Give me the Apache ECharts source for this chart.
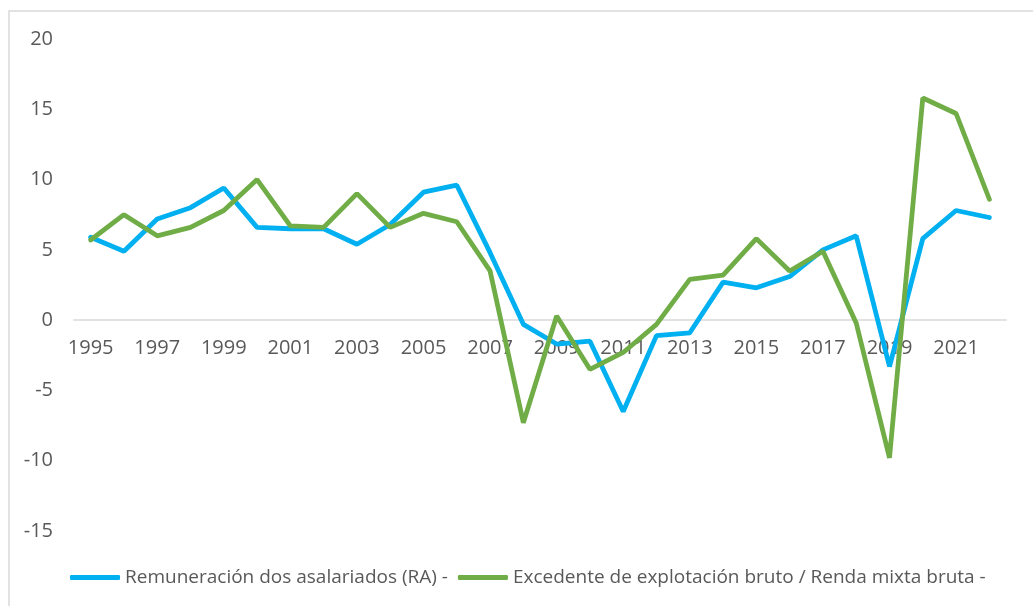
<!DOCTYPE html>
<html>
<head>
<meta charset="utf-8">
<script src="https://cdn.jsdelivr.net/npm/echarts@6.0.0/dist/echarts.min.js"></script>
<style>
  html, body { margin: 0; padding: 0; background: #fff; }
  #chart { width: 1033px; height: 606px; }
</style>
</head>
<body>
<div id="chart"></div>
<script>
"use strict";

// Years on the category axis (label shown every other year)
const years = [
  "1995", "1996", "1997", "1998", "1999", "2000", "2001", "2002", "2003", "2004",
  "2005", "2006", "2007", "2008", "2009", "2010", "2011", "2012", "2013", "2014",
  "2015", "2016", "2017", "2018", "2019", "2020", "2021", "2022",
];

// Remuneración dos asalariados (RA), % change
const remuneracion = [
  5.9, 4.9, 7.2, 8.0, 9.4, 6.6, 6.5, 6.5, 5.4, 6.8,
  9.1, 9.6, 4.8, -0.3, -1.7, -1.5, -6.5, -1.1, -0.9, 2.7,
  2.3, 3.1, 5.0, 6.0, -3.3, 5.8, 7.8, 7.3,
];

// Excedente de explotación bruto / Renda mixta bruta, % change
const excedente = [
  5.7, 7.5, 6.0, 6.6, 7.8, 10.0, 6.7, 6.6, 9.0, 6.6,
  7.6, 7.0, 3.5, -7.3, 0.3, -3.5, -2.3, -0.3, 2.9, 3.2,
  5.8, 3.5, 4.9, -0.2, -9.8, 15.8, 14.7, 8.6,
];

const seriesNames = [
  "Remuneración dos asalariados (RA) -",
  "Excedente de explotación bruto / Renda mixta bruta -",
];

const Y_MIN = -15, Y_MAX = 20;

const BLUE = "#00B0F0";
const GREEN = "#70AD47";
const TEXT = "#595959";
const RULE = "#D9D9D9";
const FONT = "'Open Sans', 'Noto Sans', sans-serif";

const GRID = { left: 74, right: 27, top: 39, bottom: 75 };
const H = 606;

// The category axis sits on the zero line (labels included), like Excel does.
const plotH = H - GRID.top - GRID.bottom;
const zeroOffset = -plotH * (0 - Y_MIN) / (Y_MAX - Y_MIN);

const chart = echarts.init(document.getElementById("chart"), null, { renderer: "canvas" });

const line = (name, data, color) => ({
  name, type: "line", data,
  symbol: "none",
  lineStyle: { color, width: 4.8, cap: "round" },
  itemStyle: { color },
  animation: false,
});

chart.setOption({
  backgroundColor: "#fff",
  textStyle: { fontFamily: FONT, color: TEXT },
  // light frame around the chart area, as in the source
  graphic: [{
    type: "rect",
    shape: { x: 9, y: 11, width: 1100, height: 700 },
    style: { fill: "none", stroke: RULE, lineWidth: 1.5 },
    silent: true,
  }],
  grid: GRID,
  legend: {
    left: 65, top: 563,
    icon: "roundRect",
    itemWidth: 50, itemHeight: 5, itemGap: 10,
    textStyle: { color: TEXT, fontSize: 19, fontFamily: FONT },
    data: seriesNames,
  },
  xAxis: {
    type: "category",
    data: years,
    boundaryGap: true,
    position: "bottom",
    offset: zeroOffset,
    axisLine: { onZero: false, lineStyle: { color: RULE, width: 1.5 } },
    axisTick: { show: false },
    axisLabel: { interval: 1, color: TEXT, fontSize: 20, margin: 18 },
    splitLine: { show: false },
  },
  yAxis: {
    type: "value",
    min: Y_MIN, max: Y_MAX, interval: 5,
    axisLine: { show: false },
    axisTick: { show: false },
    splitLine: { show: false },
    axisLabel: { color: TEXT, fontSize: 20, margin: 21 },
  },
  series: [
    line(seriesNames[0], remuneracion, BLUE),
    line(seriesNames[1], excedente, GREEN),
  ],
});
</script>
</body>
</html>
